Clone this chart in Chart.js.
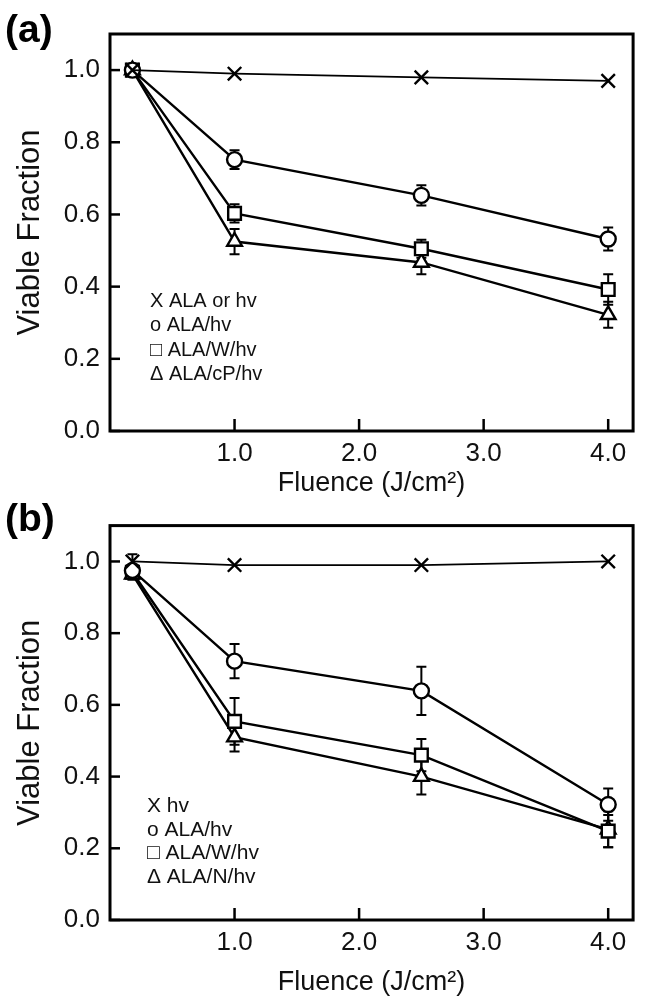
<!DOCTYPE html>
<html>
<head>
<meta charset="utf-8">
<script src="https://cdn.jsdelivr.net/npm/chart.js@4"></script>
<style>
  html, body { margin: 0; padding: 0; background: #fff; }
  #wrap { position: relative; width: 645px; height: 1005px; }
  .panel { position: absolute; left: 0; width: 645px; }
</style>
</head>
<body>
<div id="wrap">
  <div class="panel" style="top:0;height:500px"><canvas id="chartA" width="645" height="500"></canvas></div>
  <div class="panel" style="top:500px;height:505px"><canvas id="chartB" width="645" height="505"></canvas></div>
</div>
<script>
// data
const xTicks = [1.0, 2.0, 3.0, 4.0];
const yTicks = [0.0, 0.2, 0.4, 0.6, 0.8, 1.0];

// panel (a)
const fluenceA = [0.18, 1.0, 2.5, 4.0];
const ctrlA = [1.0, 0.99, 0.98, 0.97];
const alaA = [1.0, 0.752, 0.653, 0.532];
const alaA_err = [0, 0.026, 0.028, 0.032];
const alaWA = [1.0, 0.603, 0.505, 0.392];
const alaWA_err = [0, 0.025, 0.025, 0.042];
const alaCPA = [1.0, 0.525, 0.467, 0.322];
const alaCPA_err = [0, 0.035, 0.033, 0.036];
const legendA = ['X ALA or hv', 'o ALA/hv', '\u25A1 ALA/W/hv', '\u0394 ALA/cP/hv'];

// panel (b)
const fluenceB = [0.18, 1.0, 2.5, 4.0];
const ctrlB = [1.0, 0.99, 0.99, 1.0];
const ctrlB_err = [0.02, 0, 0, 0];
const alaB = [0.975, 0.722, 0.639, 0.322];
const alaB_err = [0.015, 0.048, 0.067, 0.045];
const alaWB = [0.97, 0.554, 0.46, 0.248];
const alaWB_err = [0.015, 0.065, 0.045, 0.045];
const alaNB = [0.964, 0.51, 0.4, 0.253];
const alaNB_err = [0.015, 0.04, 0.05, 0.05];
const legendB = ['X hv', 'o ALA/hv', '\u25A1 ALA/W/hv', '\u0394 ALA/N/hv'];

Chart.defaults.font.family = '"Liberation Sans", Arial, sans-serif';
Chart.defaults.color = '#111';

function toPoints(xs, ys) {
    return xs.map((x, i) => ({ x: x, y: ys[i] }));
}

function series(xs, ys, errs, style, radius, width) {
    return {
        data: toPoints(xs, ys),
        errors: errs,
        borderColor: '#000',
        borderWidth: width,
        backgroundColor: '#fff',
        pointStyle: style,
        pointRadius: radius,
        pointBorderWidth: 2.4,
        pointBackgroundColor: '#fff',
        pointBorderColor: '#000',
        tension: 0
    };
}

// error bars under the markers
const errorBars = {
    id: 'errorBars',
    beforeDatasetsDraw(chart) {
        const ctx = chart.ctx;
        const xs = chart.scales.x, ys = chart.scales.y;
        ctx.save();
        ctx.strokeStyle = '#000';
        ctx.lineWidth = 2;
        chart.data.datasets.forEach(ds => {
            if (!ds.errors) return;
            ds.data.forEach((p, i) => {
                const e = ds.errors[i];
                if (!e) return;
                const px = xs.getPixelForValue(p.x);
                const y1 = ys.getPixelForValue(p.y + e);
                const y2 = ys.getPixelForValue(p.y - e);
                ctx.beginPath();
                ctx.moveTo(px, y1); ctx.lineTo(px, y2);
                ctx.moveTo(px - 5, y1); ctx.lineTo(px + 5, y1);
                ctx.moveTo(px - 5, y2); ctx.lineTo(px + 5, y2);
                ctx.stroke();
            });
        });
        ctx.restore();
    }
};

// frame, inward ticks, panel letter and text legend
const frame = {
    id: 'frame',
    afterDraw(chart, args, opts) {
        const ctx = chart.ctx;
        const a = chart.chartArea;
        const xs = chart.scales.x, ys = chart.scales.y;
        ctx.save();
        ctx.strokeStyle = '#000';
        ctx.lineWidth = 2.5;
        xTicks.forEach(v => {
            const px = xs.getPixelForValue(v);
            ctx.beginPath(); ctx.moveTo(px, a.bottom); ctx.lineTo(px, a.bottom - 12); ctx.stroke();
        });
        yTicks.forEach(v => {
            const py = ys.getPixelForValue(v);
            ctx.beginPath(); ctx.moveTo(a.left, py); ctx.lineTo(a.left + 10, py); ctx.stroke();
        });
        ctx.lineWidth = 3;
        ctx.strokeRect(a.left, a.top, a.right - a.left, a.bottom - a.top);

        ctx.fillStyle = '#000';
        ctx.textBaseline = 'alphabetic';
        ctx.font = 'bold 39px "Liberation Sans", Arial, sans-serif';
        ctx.fillText(opts.letter, 5, opts.letterY);

        ctx.fillStyle = '#111';
        ctx.font = opts.legendSize + 'px "Liberation Sans", Arial, sans-serif';
        opts.legend.forEach((t, i) => {
            ctx.fillText(t, opts.legendX, opts.legendY + i * opts.legendStep);
        });
        ctx.restore();
    }
};

function makeChart(id, datasets, padTop, padRight, xHeight, titlePad, frameOpts) {
    return new Chart(document.getElementById(id), {
        type: 'line',
        data: { datasets: datasets },
        options: {
            responsive: false,
            animation: false,
            layout: { padding: { top: padTop, right: padRight, left: 0, bottom: 0 } },
            plugins: {
                legend: { display: false },
                tooltip: { enabled: false },
                frame: frameOpts
            },
            scales: {
                x: {
                    type: 'linear',
                    min: 0,
                    max: 4.2,
                    grid: { display: false, drawTicks: false },
                    border: { display: false },
                    afterBuildTicks: s => { s.ticks = xTicks.map(v => ({ value: v })); },
                    afterFit: s => { s.height = xHeight; },
                    ticks: {
                        font: { size: 26 },
                        color: '#111',
                        padding: 7,
                        maxRotation: 0,
                        callback: v => Number(v).toFixed(1)
                    },
                    title: {
                        display: true,
                        text: 'Fluence (J/cm\u00B2)',
                        font: { size: 27 },
                        color: '#111',
                        padding: { top: 0, bottom: titlePad }
                    }
                },
                y: {
                    min: 0,
                    max: 1.1,
                    grid: { display: false, drawTicks: false },
                    border: { display: false },
                    afterBuildTicks: s => { s.ticks = yTicks.map(v => ({ value: v })); },
                    afterFit: s => { s.width = 110; },
                    ticks: {
                        font: { size: 26 },
                        color: '#111',
                        padding: 10,
                        callback: v => Number(v).toFixed(1)
                    },
                    title: {
                        display: true,
                        text: 'Viable Fraction',
                        font: { size: 31 },
                        color: '#111',
                        padding: { top: 12, bottom: 0 }
                    }
                }
            }
        },
        plugins: [errorBars, frame]
    });
}

makeChart('chartA', [
    series(fluenceA, ctrlA, null, 'crossRot', 9.5, 1.8),
    series(fluenceA, alaA, alaA_err, 'circle', 7.5, 2.4),
    series(fluenceA, alaWA, alaWA_err, 'rect', 9, 2.4),
    series(fluenceA, alaCPA, alaCPA_err, 'triangle', 8.5, 2.4)
], 34, 11, 69, 0, {
    letter: '(a)', letterY: 42,
    legend: legendA, legendX: 150, legendY: 307, legendStep: 24.3, legendSize: 20
});

makeChart('chartB', [
    series(fluenceB, ctrlB, ctrlB_err, 'crossRot', 9.5, 1.8),
    series(fluenceB, alaB, alaB_err, 'circle', 7.5, 2.4),
    series(fluenceB, alaWB, alaWB_err, 'rect', 9, 2.4),
    series(fluenceB, alaNB, alaNB_err, 'triangle', 8.5, 2.4)
], 21, 10, 85, 6, {
    letter: '(b)', letterY: 31,
    legend: legendB, legendX: 147, legendY: 312, legendStep: 23.7, legendSize: 21
});
</script>
</body>
</html>
